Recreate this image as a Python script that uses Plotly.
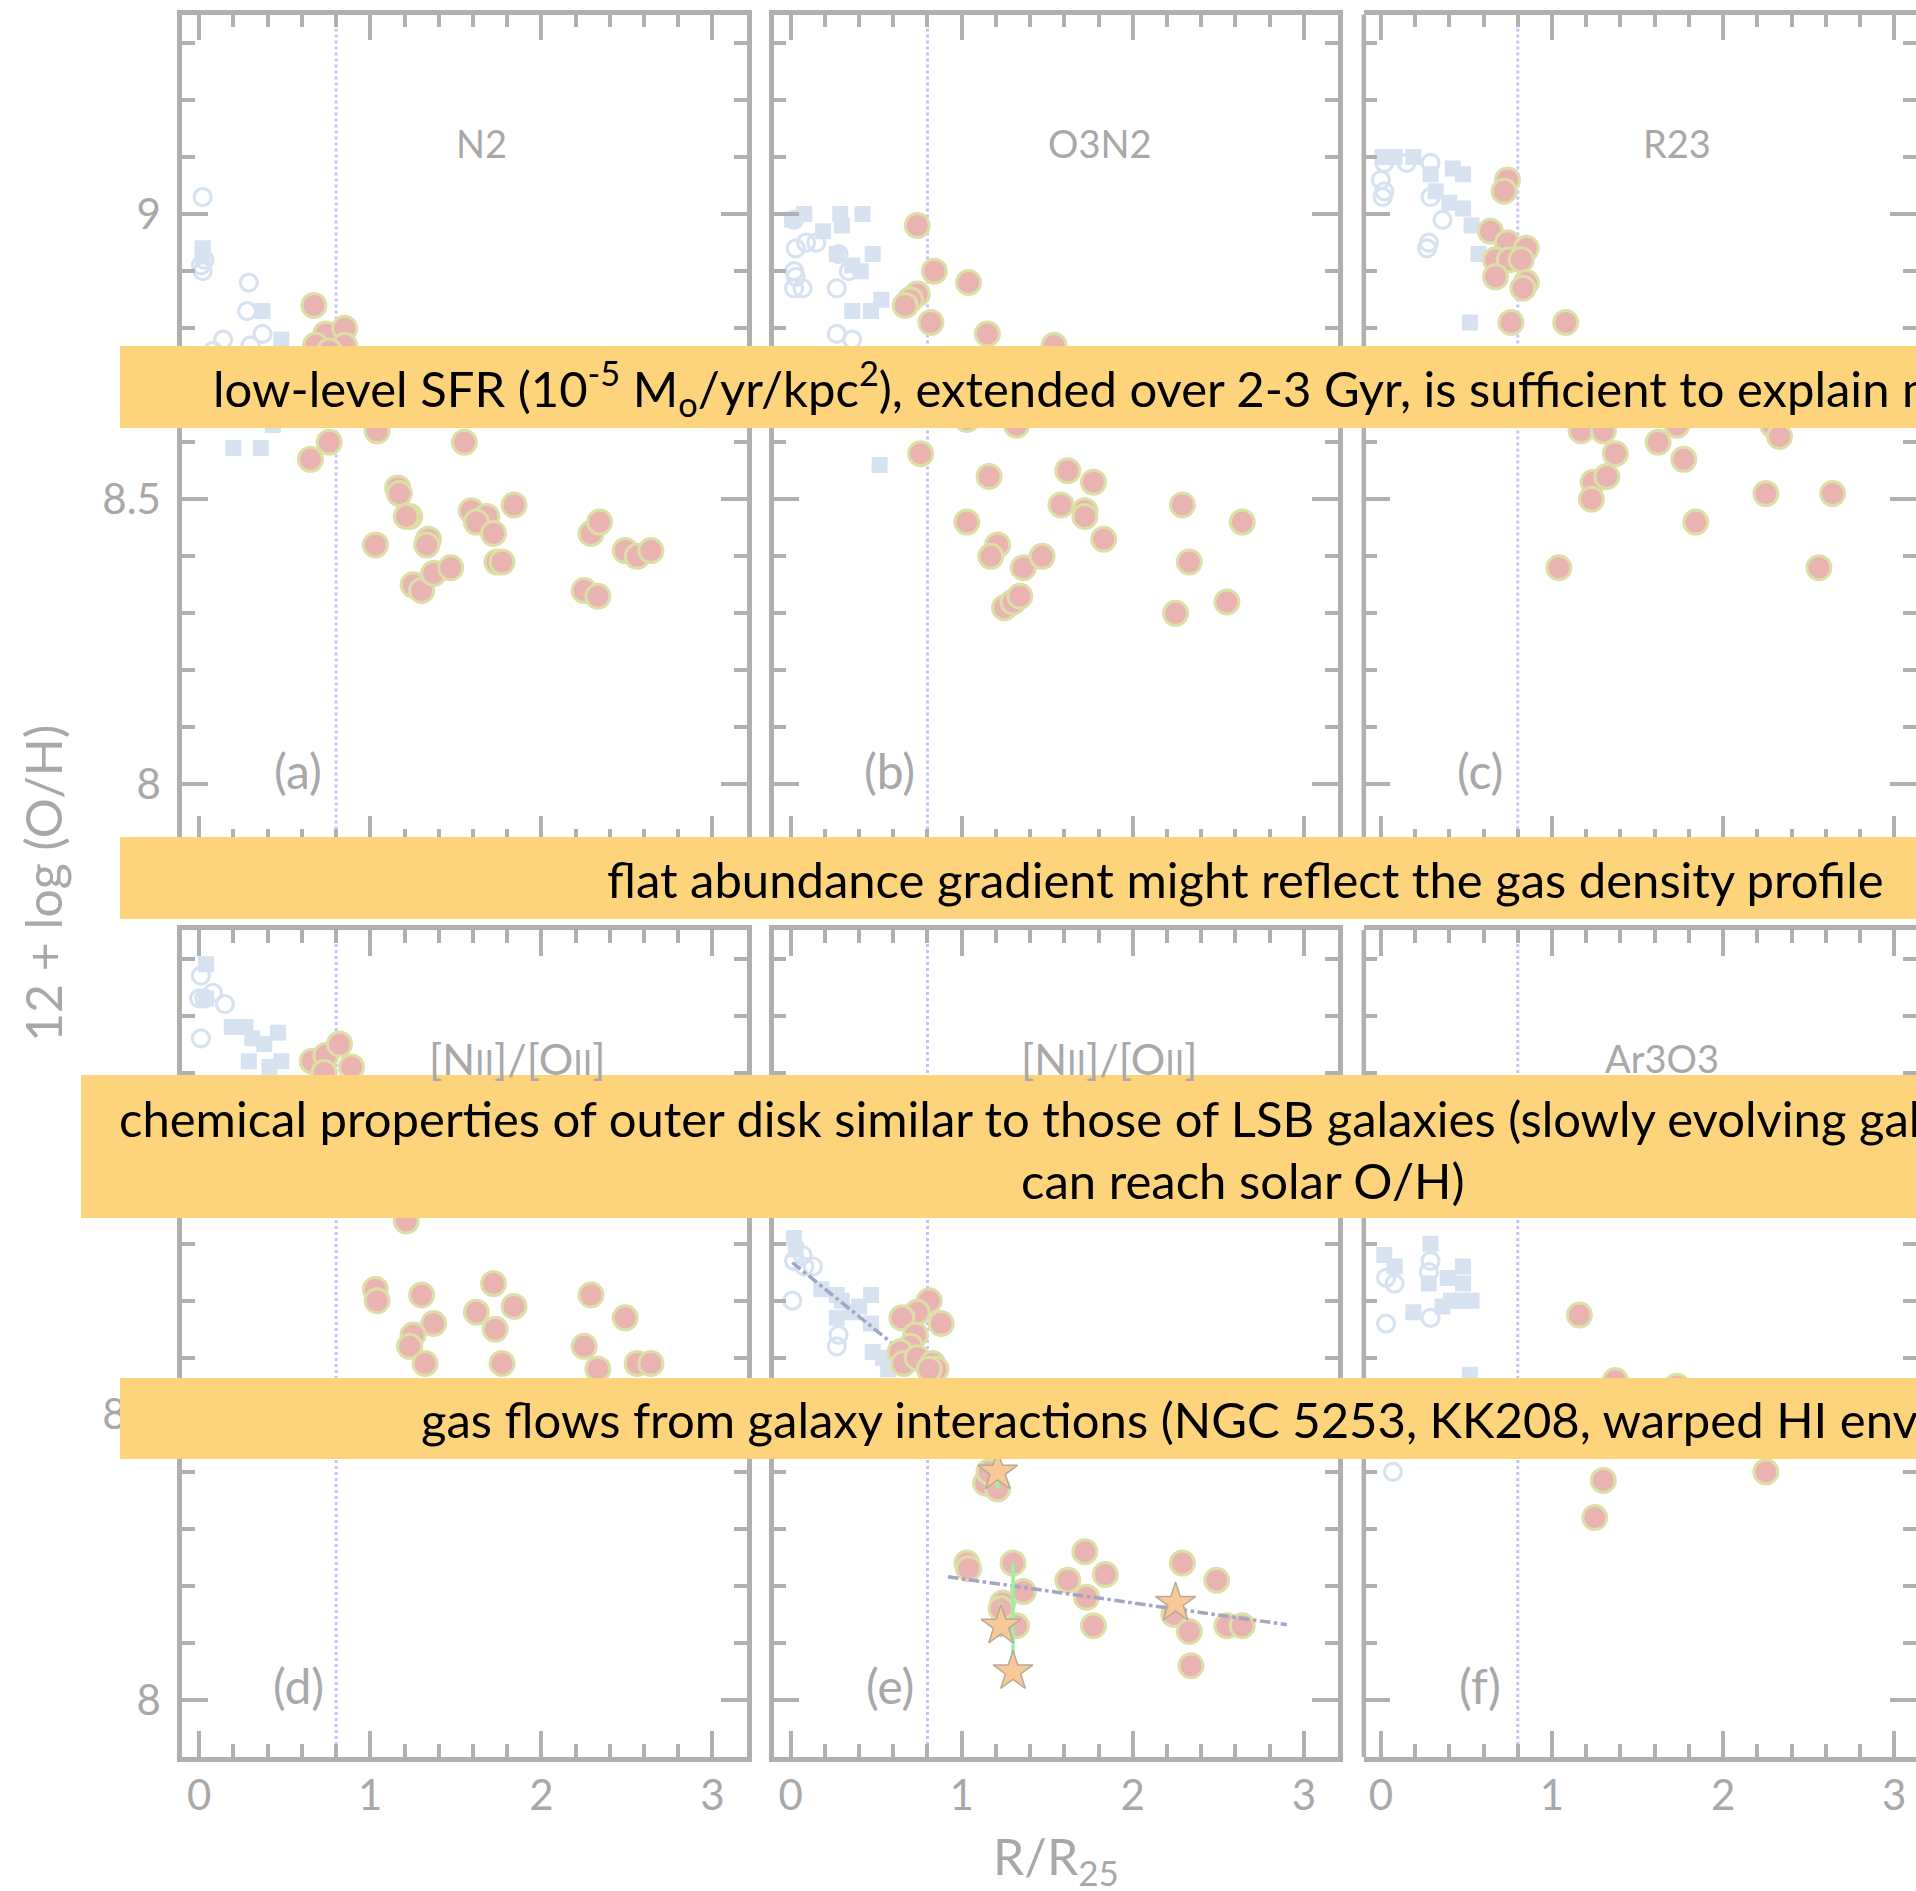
import plotly.graph_objects as go

# ---------------- data ----------------
# Panel (a) N2
A_PINK_X = [0.67, 0.74, 0.85, 0.68, 0.85, 0.76, 0.65, 0.76, 1.04, 1.55, 1.16, 1.17, 1.23, 1.21, 1.03, 1.34, 1.33,
            1.25, 1.30, 1.37, 1.47, 1.59, 1.68, 1.62, 1.72, 1.84, 1.74, 1.77, 2.29, 2.34, 2.25, 2.33, 2.49, 2.56, 2.64]
A_PINK_Y = [8.84, 8.79, 8.80, 8.77, 8.77, 8.76, 8.57, 8.60, 8.62, 8.60, 8.52, 8.51, 8.47, 8.47, 8.42, 8.43, 8.42,
            8.35, 8.34, 8.37, 8.38, 8.48, 8.47, 8.46, 8.44, 8.49, 8.39, 8.39, 8.44, 8.46, 8.34, 8.33, 8.41, 8.40, 8.41]
A_OPEN_X = [0.02, 0.01, 0.03, 0.02, 0.29, 0.28, 0.37, 0.30, 0.14, 0.08]
A_OPEN_Y = [9.03, 8.91, 8.92, 8.90, 8.88, 8.83, 8.79, 8.77, 8.78, 8.76]
A_SQ_X = [0.02, 0.02, 0.37, 0.48, 0.20, 0.36, 0.43]
A_SQ_Y = [8.94, 8.93, 8.83, 8.78, 8.59, 8.59, 8.63]

# Panel (b) O3N2
B_PINK_X = [0.74, 0.84, 1.04, 0.74, 0.70, 0.67, 0.82, 1.15, 1.54, 1.03, 1.32, 0.76, 1.16, 1.62, 1.77, 1.03,
            1.58, 1.72, 1.72, 1.83, 1.21, 1.17, 1.36, 1.47, 1.25, 1.30, 1.34, 2.29, 2.64, 2.33, 2.25, 2.55]
B_PINK_Y = [8.98, 8.90, 8.88, 8.86, 8.85, 8.84, 8.81, 8.79, 8.77, 8.64, 8.63, 8.58, 8.54, 8.55, 8.53, 8.46,
            8.49, 8.48, 8.47, 8.43, 8.42, 8.40, 8.38, 8.40, 8.31, 8.32, 8.33, 8.49, 8.46, 8.39, 8.30, 8.32]
B_OPEN_X = [0.02, 0.03, 0.09, 0.15, 0.02, 0.03, 0.02, 0.07, 0.28, 0.27, 0.34, 0.27, 0.36]
B_OPEN_Y = [8.99, 8.94, 8.95, 8.95, 8.90, 8.89, 8.87, 8.87, 8.93, 8.87, 8.90, 8.79, 8.78]
B_SQ_X = [0.01, 0.08, 0.19, 0.29, 0.30, 0.42, 0.27, 0.36, 0.41, 0.48, 0.36, 0.47, 0.53, 0.52]
B_SQ_Y = [8.99, 9.00, 8.97, 9.00, 8.98, 9.00, 8.93, 8.91, 8.90, 8.93, 8.83, 8.83, 8.85, 8.56]

# Panel (c) R23
C_PINK_X = [0.74, 0.72, 0.64, 0.74, 0.85, 0.67, 0.75, 0.82, 0.67, 0.85, 0.83, 0.76, 1.08, 1.17, 1.30,
            1.37, 1.62, 1.77, 1.73, 2.29, 2.33, 1.24, 1.32, 1.23, 1.84, 2.25, 2.64, 1.04, 2.56]
C_PINK_Y = [9.06, 9.04, 8.97, 8.95, 8.94, 8.92, 8.92, 8.92, 8.89, 8.88, 8.87, 8.81, 8.81, 8.62, 8.62,
            8.58, 8.60, 8.57, 8.63, 8.63, 8.61, 8.53, 8.54, 8.50, 8.46, 8.51, 8.51, 8.38, 8.38]
C_OPEN_X = [0.02, 0.00, 0.02, 0.01, 0.15, 0.29, 0.29, 0.36, 0.28, 0.27]
C_OPEN_Y = [9.09, 9.06, 9.04, 9.03, 9.09, 9.09, 9.03, 8.99, 8.95, 8.94]
C_SQ_X = [0.01, 0.08, 0.19, 0.29, 0.42, 0.48, 0.32, 0.40, 0.48, 0.53, 0.57, 0.52]
C_SQ_Y = [9.10, 9.10, 9.10, 9.07, 9.08, 9.07, 9.04, 9.02, 9.01, 8.98, 8.93, 8.81]

# Panel (d) [NII]/[OII]
D_PINK_X = [0.66, 0.74, 0.82, 0.89, 0.73, 1.21, 1.03, 1.04, 1.30, 1.37, 1.25, 1.23, 1.32, 1.72, 1.62,
            1.84, 1.73, 1.77, 2.29, 2.49, 2.25, 2.33, 2.56, 2.64]
D_PINK_Y = [9.12, 9.13, 9.15, 9.11, 9.10, 8.84, 8.72, 8.70, 8.71, 8.66, 8.64, 8.62, 8.59, 8.73, 8.68,
            8.69, 8.65, 8.59, 8.71, 8.67, 8.62, 8.58, 8.59, 8.59]
D_OPEN_X = [0.01, 0.03, 0.08, 0.15, 0.01, 0.00]
D_OPEN_Y = [9.27, 9.23, 9.24, 9.22, 9.16, 9.23]
D_SQ_X = [0.04, 0.04, 0.19, 0.27, 0.31, 0.38, 0.46, 0.48, 0.29, 0.41]
D_SQ_Y = [9.29, 9.23, 9.18, 9.18, 9.16, 9.15, 9.17, 9.12, 9.12, 9.11]

# Panel (e) [NII]/[OII] with fits
E_PINK_X = [0.81, 0.74, 0.65, 0.88, 0.73, 0.70, 0.64, 0.66, 0.74, 0.83, 0.85, 0.81, 1.14, 1.21, 1.16,
            1.03, 1.04, 1.30, 1.36, 1.24, 1.23, 1.32, 1.72, 1.62, 1.84, 1.73, 1.77, 2.29, 2.49, 2.24,
            2.33, 2.55, 2.64, 2.34]
E_PINK_Y = [8.70, 8.68, 8.67, 8.66, 8.64, 8.62, 8.61, 8.59, 8.60, 8.59, 8.58, 8.58, 8.38, 8.37, 8.40,
            8.24, 8.23, 8.24, 8.19, 8.17, 8.16, 8.13, 8.26, 8.21, 8.22, 8.18, 8.13, 8.24, 8.21, 8.15,
            8.12, 8.13, 8.13, 8.06]
E_OPEN_X = [0.02, 0.08, 0.13, 0.01, 0.28, 0.27, 0.07]
E_OPEN_Y = [8.77, 8.76, 8.76, 8.70, 8.64, 8.62, 8.78]
E_SQ_X = [0.02, 0.03, 0.18, 0.27, 0.30, 0.47, 0.40, 0.47, 0.27, 0.36, 0.48, 0.54, 0.57]
E_SQ_Y = [8.81, 8.79, 8.72, 8.71, 8.70, 8.71, 8.69, 8.66, 8.67, 8.68, 8.61, 8.60, 8.58]
E_STAR_X = [1.21, 1.23, 1.30, 2.25]
E_STAR_Y = [8.40, 8.13, 8.05, 8.17]
E_STAR_ERR_UP = [0.05, 0.04, 0.19, 0.01]
E_STAR_ERR_DN = [0.03, 0.02, 0.00, 0.01]
FIT_INNER_X = [0.01, 0.80]
FIT_INNER_Y = [8.767, 8.575]
FIT_OUTER_X = [0.92, 2.90]
FIT_OUTER_Y = [8.216, 8.132]

# Panel (f) Ar3O3
F_PINK_X = [1.16, 1.37, 1.73, 1.30, 1.25, 2.25]
F_PINK_Y = [8.675, 8.56, 8.55, 8.385, 8.32, 8.40]
F_OPEN_X = [0.03, 0.08, 0.29, 0.28, 0.03, 0.29, 0.07]
F_OPEN_Y = [8.74, 8.73, 8.77, 8.75, 8.66, 8.67, 8.40]
F_SQ_X = [0.02, 0.08, 0.29, 0.19, 0.36, 0.41, 0.48, 0.48, 0.47, 0.53, 0.52, 0.28, 0.39]
F_SQ_Y = [8.78, 8.76, 8.80, 8.68, 8.69, 8.70, 8.76, 8.73, 8.70, 8.70, 8.57, 8.73, 8.74]

R_BREAK = 0.8              # dotted vertical line at R/R25
X_RANGE = [-0.1, 3.2]
Y_RANGE = [7.9, 9.35]
X_TICKS = [0, 1, 2, 3]
X_TICK_TEXT = ["0", "1", "2", "3"]
Y_TICKS = [8.0, 8.5, 9.0]
Y_TICK_TEXT = ["8", "8.5", "9"]

SMALL_II = "<span style='font-size:34px'>II</span>"
PANEL_TITLES = ["N2", "O3N2", "R23",
                f"[N{SMALL_II}]/[O{SMALL_II}]",
                f"[N{SMALL_II}]/[O{SMALL_II}]",
                "Ar3O3"]
PANEL_TITLE_SIZES = [38, 38, 38, 43, 43, 38]
PANEL_TITLE_X = [1.65, 1.81, 1.73, 1.86, 1.86, 1.64]
PANEL_LETTERS = ["(a)", "(b)", "(c)", "(d)", "(e)", "(f)"]

BANNER_TEXTS = [
    "low-level SFR (10<sup>-5</sup> M<sub>o</sub>/yr/kpc<sup>2</sup>), extended over 2-3 Gyr, is sufficient to explain metallicity",
    "flat abundance gradient might reflect the gas density profile",
    "chemical properties of outer disk similar to those of LSB galaxies (slowly evolving galaxies that",
    "can reach solar O/H)",
    "gas flows from galaxy interactions (NGC 5253, KK208, warped HI envelope)",
]

# ---------------- styling ----------------
W, H = 1916, 1891
GREY = "#b0b0b0"
LABEL_GREY = "#a8a8a8"
PINK = "#e8b3b0"
PINK_EDGE = "#dde0a6"
LBLUE = "#d7e2f0"
BANNER = "#fdd37b"
FONT = "Lato"

def fx(px):
    return px / W

def fy(py):
    return 1 - py / H

col_px = [(182.1, 746.7), (773.5, 1338.1), (1363.8, 1916.0)]
row_px = [(14.5, 841.5), (930, 1757)]
X_RANGE_LAST = [X_RANGE[0], X_RANGE[0] + (1916.0 - 1363.8) / 171.1]

fig = go.Figure()

panels = [
    (A_PINK_X, A_PINK_Y, A_OPEN_X, A_OPEN_Y, A_SQ_X, A_SQ_Y),
    (B_PINK_X, B_PINK_Y, B_OPEN_X, B_OPEN_Y, B_SQ_X, B_SQ_Y),
    (C_PINK_X, C_PINK_Y, C_OPEN_X, C_OPEN_Y, C_SQ_X, C_SQ_Y),
    (D_PINK_X, D_PINK_Y, D_OPEN_X, D_OPEN_Y, D_SQ_X, D_SQ_Y),
    (E_PINK_X, E_PINK_Y, E_OPEN_X, E_OPEN_Y, E_SQ_X, E_SQ_Y),
    (F_PINK_X, F_PINK_Y, F_OPEN_X, F_OPEN_Y, F_SQ_X, F_SQ_Y),
]

shapes = []
annotations = []
minor_x = [round(0.2 * i, 1) for i in range(0, 17) if round(0.2 * i, 1) not in X_TICKS]
minor_y = [round(7.9 + 0.1 * i, 1) for i in range(0, 15) if round(7.9 + 0.1 * i, 1) not in Y_TICKS]

for i, (px_, py_, ox, oy, sx, sy) in enumerate(panels):
    r, c = divmod(i, 3)
    n = i + 1
    xa = "x" if n == 1 else f"x{n}"
    ya = "y" if n == 1 else f"y{n}"
    xk = "xaxis" if n == 1 else f"xaxis{n}"
    yk = "yaxis" if n == 1 else f"yaxis{n}"
    last_col = (c == 2)

    # dotted break line
    fig.add_trace(go.Scatter(x=[R_BREAK, R_BREAK], y=Y_RANGE, mode="lines",
                             line=dict(color="#c4c4fa", width=3, dash="dot"),
                             xaxis=xa, yaxis=ya, showlegend=False, hoverinfo="skip"))
    fig.add_trace(go.Scatter(x=ox, y=oy, mode="markers",
                             marker=dict(symbol="circle-open", size=17, color=LBLUE, line=dict(width=3.2, color=LBLUE)),
                             xaxis=xa, yaxis=ya, showlegend=False))
    fig.add_trace(go.Scatter(x=sx, y=sy, mode="markers",
                             marker=dict(symbol="square", size=16, color=LBLUE, line=dict(width=0)),
                             xaxis=xa, yaxis=ya, showlegend=False))
    if n == 5:
        fig.add_trace(go.Scatter(x=FIT_INNER_X, y=FIT_INNER_Y, mode="lines",
                                 line=dict(color="#a4a4c4", width=3.5, dash="dashdot"),
                                 xaxis=xa, yaxis=ya, showlegend=False))
    fig.add_trace(go.Scatter(x=px_, y=py_, mode="markers",
                             marker=dict(symbol="circle", size=24, color=PINK, line=dict(width=3, color=PINK_EDGE)),
                             xaxis=xa, yaxis=ya, showlegend=False))
    if n == 5:
        fig.add_trace(go.Scatter(x=FIT_OUTER_X, y=FIT_OUTER_Y, mode="lines",
                                 line=dict(color="#a4a4c4", width=3.5, dash="dashdot"),
                                 xaxis=xa, yaxis=ya, showlegend=False))
        fig.add_trace(go.Scatter(x=E_STAR_X, y=E_STAR_Y, mode="markers",
                                 marker=dict(symbol="star", size=30, color="#f8c996",
                                             line=dict(width=1.5, color="#b8a898")),
                                 error_y=dict(type="data", symmetric=False, array=E_STAR_ERR_UP,
                                              arrayminus=E_STAR_ERR_DN, color="#9ef09e", thickness=3.5, width=0),
                                 xaxis=xa, yaxis=ya, showlegend=False))

    common = dict(showgrid=False, zeroline=False, ticks="inside", tickwidth=3.5, tickcolor=GREY,
                  ticklen=26, linecolor=GREY, linewidth=4.5,
                  tickfont=dict(family=FONT, size=42, color=LABEL_GREY))
    fig.update_layout({
        xk: dict(common, domain=[fx(col_px[c][0]), fx(col_px[c][1])],
                 range=X_RANGE_LAST if last_col else X_RANGE, anchor=ya,
                 tickmode="array", tickvals=X_TICKS, ticktext=X_TICK_TEXT,
                 showticklabels=(r == 1), ticklabelstandoff=-2,
                 showline=True, mirror="ticks",
                 minor=dict(tickmode="array", tickvals=minor_x, ticks="inside", ticklen=13,
                            tickwidth=3.5, tickcolor=GREY)),
        yk: dict(common, domain=[fy(row_px[r][1]), fy(row_px[r][0])],
                 range=Y_RANGE, anchor=xa,
                 tickmode="array", tickvals=Y_TICKS, ticktext=Y_TICK_TEXT,
                 showticklabels=(c == 0), ticklabelstandoff=8,
                 showline=not last_col, mirror="ticks",
                 minor=dict(tickmode="array", tickvals=minor_y, ticks="inside", ticklen=13,
                            tickwidth=3.5, tickcolor=GREY)),
    })
    if last_col:
        shapes.append(dict(type="line", xref=f"{xa} domain", yref=f"{ya} domain",
                           x0=0, x1=0, y0=0, y1=1, line=dict(color=GREY, width=4.5), layer="above"))

    annotations.append(dict(x=PANEL_TITLE_X[i], y=9.125, xref=xa, yref=ya, text=PANEL_TITLES[i],
                            showarrow=False, font=dict(family=FONT, size=PANEL_TITLE_SIZES[i], color=LABEL_GREY)))
    annotations.append(dict(x=0.58, y=8.025, xref=xa, yref=ya, text=PANEL_LETTERS[i],
                            showarrow=False, font=dict(family=FONT, size=48, color=LABEL_GREY)))

# banners
banner_px = [(120, 346, 428), (120, 837, 919), (81, 1075, 1218), (120, 1378, 1459)]
for x0, y0, y1 in banner_px:
    shapes.append(dict(type="rect", xref="paper", yref="paper", x0=fx(x0), x1=1.05,
                       y0=fy(y1), y1=fy(y0), fillcolor=BANNER, line=dict(width=0), layer="above"))

bfont = dict(family=FONT, size=49, color="black")
annotations += [
    dict(x=fx(211), y=fy(388), xref="paper", yref="paper", xanchor="left", yanchor="middle",
         text=BANNER_TEXTS[0], showarrow=False, font=bfont),
    dict(x=fx(605), y=fy(879), xref="paper", yref="paper", xanchor="left", yanchor="middle",
         text=BANNER_TEXTS[1], showarrow=False, font=bfont),
    dict(x=fx(117), y=fy(1118), xref="paper", yref="paper", xanchor="left", yanchor="middle",
         text=BANNER_TEXTS[2], showarrow=False, font=bfont),
    dict(x=fx(1243), y=fy(1180), xref="paper", yref="paper", xanchor="center", yanchor="middle",
         text=BANNER_TEXTS[3], showarrow=False, font=bfont),
    dict(x=fx(419), y=fy(1419), xref="paper", yref="paper", xanchor="left", yanchor="middle",
         text=BANNER_TEXTS[4], showarrow=False, font=bfont),
]

# axis titles
annotations.append(dict(x=fx(43), y=fy(884), xref="paper", yref="paper", xanchor="center", yanchor="middle",
                        text="12 + log (O/H)", textangle=-90, showarrow=False,
                        font=dict(family=FONT, size=50, color=LABEL_GREY)))
annotations.append(dict(x=fx(1056), y=fy(1859), xref="paper", yref="paper", xanchor="center", yanchor="middle",
                        text="R/R<sub>25</sub>", showarrow=False,
                        font=dict(family=FONT, size=50, color=LABEL_GREY)))

fig.update_layout(width=W, height=H, margin=dict(l=0, r=0, t=0, b=0),
                  plot_bgcolor="white", paper_bgcolor="white",
                  shapes=shapes, annotations=annotations, showlegend=False,
                  font=dict(family=FONT))

fig.write_html("out.html")
